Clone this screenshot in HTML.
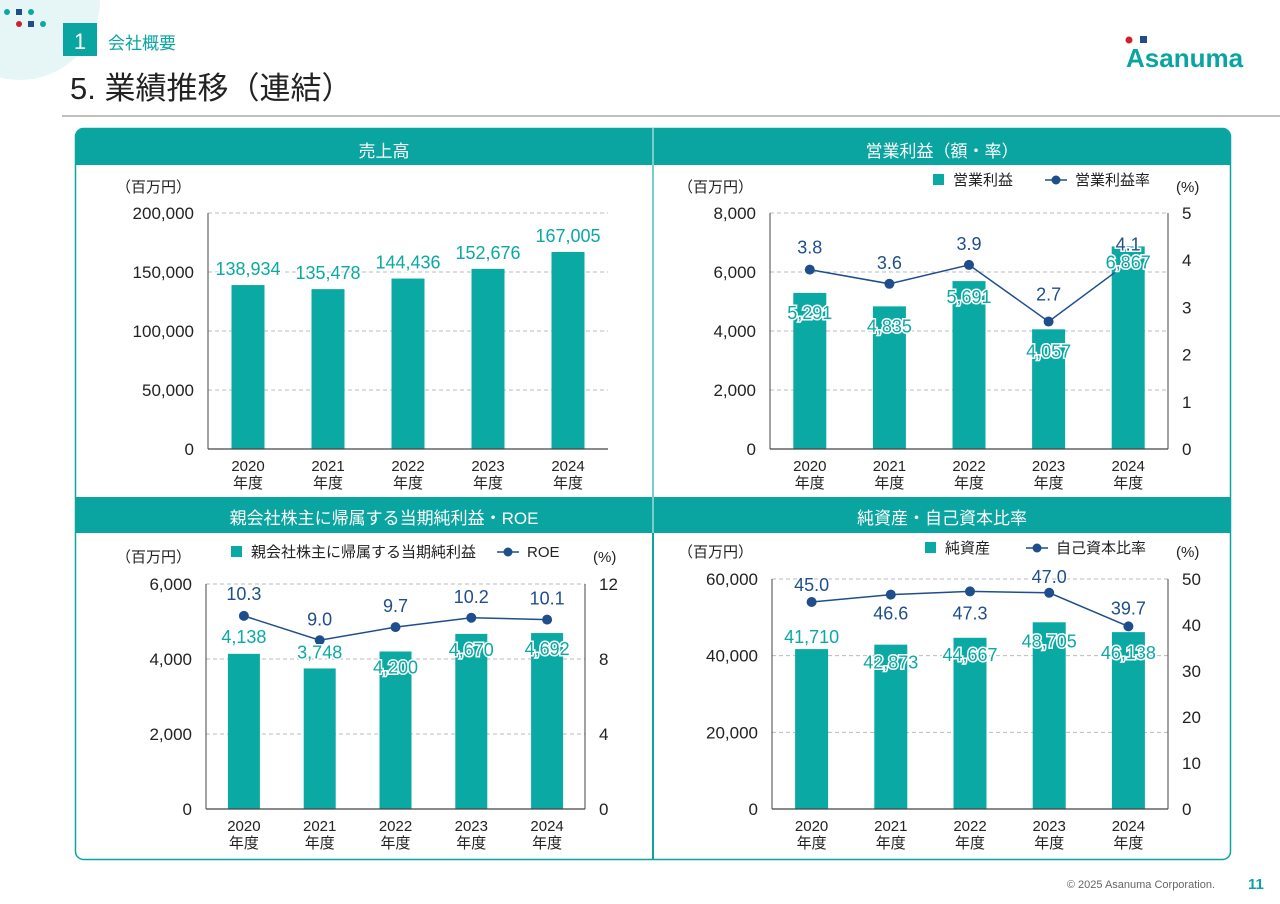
<!DOCTYPE html>
<html><head><meta charset="utf-8">
<style>
html,body{margin:0;padding:0;background:#fff;}
svg{display:block;font-family:"Liberation Sans","Noto Sans CJK JP",sans-serif;}
.tick{font-size:17px;fill:#222;}
.lbl{font-size:18px;fill:#0aa9a4;stroke:#fff;stroke-width:3px;paint-order:stroke;}
.nlbl{font-size:18px;fill:#1f4e8c;stroke:#fff;stroke-width:3px;paint-order:stroke;}
.cat{font-size:15px;fill:#222;}
.leg{font-size:15px;fill:#222;}
</style></head>
<body>
<svg id="page" width="1280" height="904" viewBox="0 0 1280 904">
  <circle cx="20" cy="0" r="80" fill="#e6f6f6"/>
  <g>
    <circle cx="7" cy="12" r="3" fill="#0aa9a4"/><rect x="16" y="9" width="6" height="6" fill="#1f4e8c"/><circle cx="31" cy="12" r="3" fill="#0aa9a4"/>
    <circle cx="19" cy="24" r="3" fill="#d0202e"/><rect x="28" y="21" width="6" height="6" fill="#1f4e8c"/><circle cx="43" cy="24" r="3" fill="#0aa9a4"/>
  </g>
  <rect x="63" y="23" width="34" height="33" fill="#0aa5a0"/>
  <text x="80" y="49" text-anchor="middle" font-size="22" fill="#fff">1</text>
  <text x="108" y="49" font-size="17" fill="#0aa5a0">会社概要</text>
  <text x="70" y="99" font-size="31" fill="#222">5. 業績推移（連結）</text>
  <line x1="62" y1="116" x2="1280" y2="116" stroke="#aaa" stroke-width="1.5"/>
  <g>
    <circle cx="1129" cy="40" r="3.5" fill="#d0202e"/><rect x="1140" y="36" width="7" height="7" fill="#1f4e8c"/>
    <text x="1126" y="67" font-size="26" font-weight="bold" fill="#0aa5a0">Asanuma</text>
  </g>
  <rect x="75.5" y="128.5" width="1155" height="731" rx="8" fill="#fff" stroke="#0aa5a0" stroke-width="1.5"/>
  <path d="M75,165 V137 a9,9 0 0 1 9,-9 H1221 a9,9 0 0 1 9,9 V165 Z" fill="#0aa5a0"/>
  <rect x="75" y="497" width="1155" height="36" fill="#0aa5a0"/>
  <line x1="653" y1="165" x2="653" y2="860" stroke="#0aa5a0" stroke-width="2"/>
  <line x1="653" y1="128" x2="653" y2="533" stroke="#fff" stroke-width="1.5" opacity="0.6"/>
  <text x="384" y="157" text-anchor="middle" font-size="17" fill="#fff">売上高</text>
  <text x="942" y="157" text-anchor="middle" font-size="17" fill="#fff">営業利益（額・率）</text>
  <text x="384" y="524" text-anchor="middle" font-size="17" fill="#fff">親会社株主に帰属する当期純利益・ROE</text>
  <text x="942" y="524" text-anchor="middle" font-size="17" fill="#fff">純資産・自己資本比率</text>
  <text x="1215" y="888" text-anchor="end" font-size="11" fill="#666">© 2025 Asanuma Corporation.</text>
  <text x="1248" y="889" font-size="15" font-weight="bold" fill="#0aa5a0">11</text>
  <g id="charts"></g>
</svg>
<script>
const categories = ["2020", "2021", "2022", "2023", "2024"];
const salesValues = [138934, 135478, 144436, 152676, 167005];
const salesLabels = ["138,934", "135,478", "144,436", "152,676", "167,005"];
const salesTicks = [0, 50000, 100000, 150000, 200000];
const opIncomeValues = [5291, 4835, 5691, 4057, 6867];
const opIncomeLabels = ["5,291", "4,835", "5,691", "4,057", "6,867"];
const opIncomeTicks = [0, 2000, 4000, 6000, 8000];
const opMarginValues = [3.8, 3.5, 3.9, 2.7, 3.95];
const opMarginLabels = ["3.8", "3.6", "3.9", "2.7", "4.1"];
const opMarginTicks = [0, 1, 2, 3, 4, 5];
const netIncomeValues = [4138, 3748, 4200, 4670, 4692];
const netIncomeLabels = ["4,138", "3,748", "4,200", "4,670", "4,692"];
const netIncomeTicks = [0, 2000, 4000, 6000];
const roeValues = [10.3, 9.0, 9.7, 10.2, 10.1];
const roeLabels = ["10.3", "9.0", "9.7", "10.2", "10.1"];
const roeTicks = [0, 4, 8, 12];
const netAssetValues = [41710, 42873, 44667, 48705, 46138];
const netAssetLabels = ["41,710", "42,873", "44,667", "48,705", "46,138"];
const netAssetTicks = [0, 20000, 40000, 60000];
const equityRatioValues = [45.0, 46.6, 47.3, 47.0, 39.7];
const equityRatioLabels = ["45.0", "46.6", "47.3", "47.0", "39.7"];
const equityRatioTicks = [0, 10, 20, 30, 40, 50];

const NS = "http://www.w3.org/2000/svg";
const root = document.getElementById("charts");
function mk(tag, attrs, parent, txt){
  const e = document.createElementNS(NS, tag);
  for (const k in attrs) e.setAttribute(k, attrs[k]);
  if (txt !== undefined) e.textContent = txt;
  (parent || root).appendChild(e);
  return e;
}
function fmt(v){ return v.toLocaleString("en-US"); }

function chart(cfg){
  const g = mk("g", {});
  
  
  const {x0, x1, y0, y1} = cfg;
  const lmax = cfg.lTicks[cfg.lTicks.length - 1];
  const yL = v => y0 - v / lmax * (y0 - y1);
  const step = (x1 - x0) / categories.length;
  const xC = i => x0 + step * (i + 0.5);
  cfg.lTicks.forEach(t => {
    if (t > 0) mk("line", {x1: x0, x2: x1, y1: yL(t), y2: yL(t), stroke: "#bbb", "stroke-dasharray": "4,3"}, g);
    const tx = mk("text", {x: x0 - 14, y: yL(t) + 6, "text-anchor": "end", class: "tick"}, g, fmt(t));
    
    
  });
  if (cfg.rTicks){
    const rmax = cfg.rTicks[cfg.rTicks.length - 1];
    cfg.yR = v => y0 - v / rmax * (y0 - y1);
    cfg.rTicks.forEach(t => {
      const tx = mk("text", {x: x1 + 14, y: cfg.yR(t) + 6, class: "tick"}, g, String(t));
      
      
    });
    mk("line", {x1: x1, x2: x1, y1: y1, y2: y0, stroke: "#444", "stroke-width": 1}, g);
  }
  mk("line", {x1: x0, x2: x0, y1: y1, y2: y0, stroke: "#444", "stroke-width": 1}, g);
  cfg.bars.forEach((v, i) => {
    const r = mk("rect", {x: xC(i) - cfg.bw / 2, y: yL(v), width: cfg.bw, height: y0 - yL(v), fill: "#0aa9a4"}, g);
    
    
  });
  mk("line", {x1: x0, x2: x1, y1: y0, y2: y0, stroke: "#444", "stroke-width": 1.2}, g);
  categories.forEach((c, i) => {
    const t1 = mk("text", {x: xC(i), y: y0 + 22, "text-anchor": "middle", class: "cat"}, g, c);
    
    
    const t2 = mk("text", {x: xC(i), y: y0 + 39, "text-anchor": "middle", class: "cat"}, g, "年度");
    
    
  });
  if (cfg.line){
    const pts = cfg.line.map((v, i) => xC(i) + "," + cfg.yR(v)).join(" ");
    const pl = mk("polyline", {points: pts, fill: "none", stroke: "#1f4e8c", "stroke-width": 1.5}, g);
    
    
    cfg.line.forEach((v, i) => {
      const c = mk("circle", {cx: xC(i), cy: cfg.yR(v), r: 5, fill: "#1f4e8c"}, g);
      
      
    });
  }
  cfg.bars.forEach((v, i) => {
    const t = mk("text", {x: xC(i), y: yL(v) + cfg.bOff[i] + 6, "text-anchor": "middle", class: "lbl"}, g, cfg.bLabels[i]);
    
    
  });
  if (cfg.line){
    cfg.line.forEach((v, i) => {
      const t = mk("text", {x: xC(i), y: cfg.yR(v) + cfg.lOff[i] + 6, "text-anchor": "middle", class: "nlbl"}, g, cfg.lLabels[i]);
      
      
    });
  }
  const u = mk("text", {x: cfg.unitX, y: cfg.unitY, class: "leg"}, g, "（百万円）");
  
  
  if (cfg.rTicks){
    const p = mk("text", {x: x1 + 8, y: cfg.unitY, class: "leg"}, g, "(%)");
    
    
  }
  if (cfg.legBar){
    const lg = mk("g", {}, g);
    
    
    const ly = cfg.legY;
    mk("rect", {x: cfg.legX, y: ly - 6, width: 11, height: 11, fill: "#0aa9a4"}, lg);
    mk("text", {x: cfg.legX + 20, y: ly + 5, class: "leg"}, lg, cfg.legBar);
    mk("line", {x1: cfg.legX2, x2: cfg.legX2 + 22, y1: ly, y2: ly, stroke: "#1f4e8c", "stroke-width": 1.5}, lg);
    mk("circle", {cx: cfg.legX2 + 11, cy: ly, r: 4.5, fill: "#1f4e8c"}, lg);
    mk("text", {x: cfg.legX2 + 30, y: ly + 5, class: "leg"}, lg, cfg.legLine);
  }
}

chart({name: "sales-chart", x0: 208, x1: 608, y0: 449, y1: 213, bw: 33,
  lTicks: salesTicks, bars: salesValues, bLabels: salesLabels, bOff: [-16,-16,-16,-16,-16],
  unitX: 116, unitY: 192});
chart({name: "operating-income-chart", x0: 770, x1: 1168, y0: 449, y1: 213, bw: 33,
  lTicks: opIncomeTicks, rTicks: opMarginTicks, bars: opIncomeValues, bLabels: opIncomeLabels, bOff: [20,20,16,22,16],
  line: opMarginValues, lLabels: opMarginLabels, lOff: [-22,-21,-21,-27,-18],
  unitX: 678, unitY: 192, legX: 933, legY: 180, legBar: "営業利益", legX2: 1045, legLine: "営業利益率"});
chart({name: "net-income-chart", x0: 206, x1: 585, y0: 809, y1: 584, bw: 32,
  lTicks: netIncomeTicks, rTicks: roeTicks, bars: netIncomeValues, bLabels: netIncomeLabels, bOff: [-17,-16,16,16,16],
  line: roeValues, lLabels: roeLabels, lOff: [-22,-21,-21,-21,-21],
  unitX: 116, unitY: 562, legX: 231, legY: 552, legBar: "親会社株主に帰属する当期純利益", legX2: 497, legLine: "ROE"});
chart({name: "net-assets-chart", x0: 772, x1: 1168, y0: 809, y1: 579, bw: 33,
  lTicks: netAssetTicks, rTicks: equityRatioTicks, bars: netAssetValues, bLabels: netAssetLabels, bOff: [-12,18,17,19,21],
  line: equityRatioValues, lLabels: equityRatioLabels, lOff: [-17,19,22,-16,-18],
  unitX: 678, unitY: 557, legX: 925, legY: 548, legBar: "純資産", legX2: 1026, legLine: "自己資本比率"});
</script>
</body></html>
